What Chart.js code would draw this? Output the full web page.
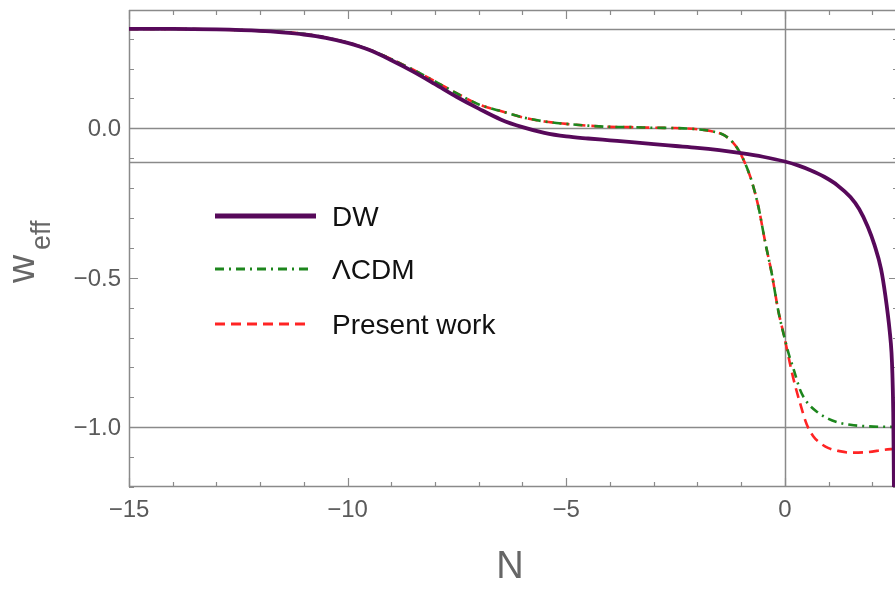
<!DOCTYPE html>
<html>
<head>
<meta charset="utf-8">
<script src="https://cdn.jsdelivr.net/npm/chart.js@4.4.1/dist/chart.umd.min.js"></script>
<style>
    html, body { margin: 0; padding: 0; background: #fff; }
    #wrap { width: 895px; height: 590px; }
</style>
</head>
<body>
<div id="wrap"><canvas id="chart" width="895" height="590"></canvas></div>
<script>
// values (N, w_eff)
const dwN = [-15, -14, -13, -12, -11.5, -11, -10.5, -10, -9.5, -9, -8.5, -8, -7.5, -7, -6.5, -6, -5.5, -5, -4.5, -4, -3.5, -3, -2.5, -2, -1.5, -1, -0.5, 0, 0.3, 0.6, 0.9, 1.2, 1.5, 1.7, 1.9, 2.05, 2.2, 2.3, 2.4, 2.44, 2.46, 2.48, 2.49, 2.5];
const dwW = [0.333, 0.333, 0.331, 0.326, 0.321, 0.314, 0.303, 0.286, 0.262, 0.228, 0.190, 0.148, 0.105, 0.066, 0.030, 0.004, -0.015, -0.027, -0.034, -0.040, -0.046, -0.053, -0.059, -0.065, -0.073, -0.083, -0.095, -0.111, -0.124, -0.141, -0.162, -0.190, -0.230, -0.270, -0.330, -0.390, -0.470, -0.560, -0.680, -0.750, -0.820, -0.950, -1.100, -1.300];

const lcdmN = [-15, -13, -12, -11, -10, -9.5, -9, -8.5, -8, -7.5, -7, -6.5, -6, -5.5, -5, -4.5, -4, -3.5, -3, -2.5, -2, -1.7, -1.4, -1.2, -1.05, -0.9, -0.75, -0.6, -0.45, -0.3, -0.15, 0, 0.1, 0.2, 0.35, 0.5, 0.75, 1.0, 1.25, 1.5, 1.9, 2.52];
const lcdmW = [0.333, 0.331, 0.326, 0.316, 0.287, 0.263, 0.232, 0.196, 0.157, 0.117, 0.080, 0.058, 0.037, 0.023, 0.015, 0.009, 0.005, 0.004, 0.002, 0.001, -0.003, -0.009, -0.022, -0.045, -0.075, -0.120, -0.180, -0.265, -0.380, -0.485, -0.610, -0.705, -0.760, -0.805, -0.875, -0.915, -0.950, -0.972, -0.985, -0.992, -0.997, -0.999];

const presentN = [-15, -13, -12, -11, -10, -9.5, -9, -8.5, -8, -7.5, -7, -6.5, -6, -5.5, -5, -4.5, -4, -3.5, -3, -2.5, -2, -1.7, -1.4, -1.2, -1.05, -0.9, -0.75, -0.6, -0.45, -0.3, -0.15, 0, 0.1, 0.2, 0.35, 0.5, 0.65, 0.8, 1.0, 1.25, 1.5, 1.9, 2.25, 2.52];
const presentW = [0.333, 0.331, 0.326, 0.316, 0.287, 0.263, 0.232, 0.196, 0.157, 0.117, 0.080, 0.058, 0.037, 0.023, 0.015, 0.009, 0.005, 0.004, 0.002, 0.001, -0.003, -0.009, -0.022, -0.045, -0.075, -0.120, -0.180, -0.265, -0.380, -0.485, -0.610, -0.705, -0.775, -0.840, -0.920, -0.990, -1.030, -1.052, -1.070, -1.080, -1.085, -1.083, -1.076, -1.072];

const seriesLabels = ["DW", "\u039BCDM", "Present work"];
const xTickLabels = [-15, -10, -5, 0];
const yTickLabels = [0, -0.5, -1.0];
const hLinesW = [0.333, 0, -0.111, -1];
const vLinesN = [0];

function toPoints(xs, ys) {
    return xs.map((x, i) => ({ x: x, y: ys[i] }));
}

function fmt(v, digits) {
    const s = Math.abs(v).toFixed(digits);
    return v < 0 ? "\u2212" + s : s;
}

const FONT = "'Liberation Sans', Arial, sans-serif";
const frameColor = "#8a8a8a";

const decorations = {
    id: "decorations",
    beforeDatasetsDraw(chart) {
        const { ctx, chartArea: a, scales: { x, y } } = chart;
        ctx.save();
        ctx.strokeStyle = frameColor;
        ctx.lineWidth = 1.5;
        // reference lines
        hLinesW.forEach(w => {
            const py = Math.round(y.getPixelForValue(w)) + 0.5;
            ctx.beginPath(); ctx.moveTo(a.left, py); ctx.lineTo(a.right, py); ctx.stroke();
        });
        vLinesN.forEach(n => {
            const px = Math.round(x.getPixelForValue(n)) + 0.5;
            ctx.beginPath(); ctx.moveTo(px, a.top); ctx.lineTo(px, a.bottom); ctx.stroke();
        });
        // frame (right side falls just outside the picture)
        ctx.beginPath();
        ctx.moveTo(a.left + 0.5, a.top); ctx.lineTo(a.left + 0.5, a.bottom);
        ctx.moveTo(a.left, a.top + 0.5); ctx.lineTo(a.right, a.top + 0.5);
        ctx.moveTo(a.left, a.bottom - 0.5); ctx.lineTo(a.right, a.bottom - 0.5);
        ctx.stroke();
        // inward ticks
        ctx.lineWidth = 1.2;
        for (let n = -15; n <= 2; n++) {
            const px = Math.round(x.getPixelForValue(n)) + 0.5;
            const len = n % 5 === 0 ? 9 : 5;
            ctx.beginPath();
            ctx.moveTo(px, a.bottom); ctx.lineTo(px, a.bottom - len);
            ctx.moveTo(px, a.top); ctx.lineTo(px, a.top + len);
            ctx.stroke();
        }
        for (let k = -12; k <= 3; k++) {
            const py = Math.round(y.getPixelForValue(k / 10)) + 0.5;
            const len = k % 5 === 0 ? 9 : 5;
            ctx.beginPath();
            ctx.moveTo(a.left, py); ctx.lineTo(a.left + len, py);
            ctx.moveTo(a.right + 3, py); ctx.lineTo(a.right + 3 - len, py);
            ctx.stroke();
        }
        ctx.restore();
    },
    afterDraw(chart) {
        const { ctx, chartArea: a, scales: { x, y } } = chart;
        ctx.save();
        // tick labels
        ctx.fillStyle = "#5a5a5a";
        ctx.font = "24px " + FONT;
        ctx.textAlign = "center";
        ctx.textBaseline = "alphabetic";
        xTickLabels.forEach(n => {
            ctx.fillText(fmt(n, 0), x.getPixelForValue(n), 517);
        });
        ctx.textAlign = "right";
        yTickLabels.forEach(w => {
            ctx.fillText(fmt(w, 1), 121, y.getPixelForValue(w) + 8);
        });
        // axis titles
        ctx.fillStyle = "#666";
        ctx.font = "38px " + FONT;
        ctx.textAlign = "center";
        ctx.fillText("N", (a.left + a.right) / 2 - 2, 578);
        ctx.translate(34, 0);
        ctx.rotate(-Math.PI / 2);
        ctx.textAlign = "left";
        ctx.font = "39px " + FONT;
        ctx.fillText("w", -283, 0);
        ctx.font = "27px " + FONT;
        ctx.fillText("eff", -250, 16);
        ctx.restore();

        // legend
        ctx.save();
        const rows = [216, 269, 324];
        const ends = [316, 308, 310];
        chart.data.datasets.forEach((ds, i) => {
            ctx.strokeStyle = ds.borderColor;
            ctx.lineWidth = i === 0 ? 5 : 2.8;
            ctx.setLineDash(ds.borderDash || []);
            ctx.beginPath();
            ctx.moveTo(215, rows[i]); ctx.lineTo(ends[i], rows[i]);
            ctx.stroke();
            ctx.setLineDash([]);
            ctx.fillStyle = "#111";
            ctx.font = "28px " + FONT;
            ctx.textAlign = "left";
            ctx.textBaseline = "alphabetic";
            ctx.fillText(ds.label, 332, rows[i] + 10);
        });
        ctx.restore();
    }
};

new Chart(document.getElementById("chart"), {
    type: "line",
    data: {
        datasets: [
            {
                label: seriesLabels[0],
                data: toPoints(dwN, dwW),
                borderColor: "#57095a",
                borderWidth: 3.8,
                cubicInterpolationMode: "monotone",
                pointRadius: 0
            },
            {
                label: seriesLabels[1],
                data: toPoints(lcdmN, lcdmW),
                borderColor: "#1d861d",
                borderWidth: 2.6,
                borderDash: [9, 5, 2, 5],
                cubicInterpolationMode: "monotone",
                pointRadius: 0
            },
            {
                label: seriesLabels[2],
                data: toPoints(presentN, presentW),
                borderColor: "#ff2424",
                borderWidth: 2.6,
                borderDash: [10, 6],
                cubicInterpolationMode: "monotone",
                pointRadius: 0
            }
        ]
    },
    options: {
        responsive: false,
        animation: false,
        devicePixelRatio: 1,
        layout: { padding: { top: 10, left: 0, right: 0, bottom: 0 } },
        scales: {
            x: {
                type: "linear",
                min: -15,
                max: 2.52,
                grid: { display: false },
                border: { display: false },
                ticks: { display: false },
                afterFit: s => { s.height = 103; }
            },
            y: {
                type: "linear",
                min: -1.2,
                max: 0.396,
                grid: { display: false },
                border: { display: false },
                ticks: { display: false },
                afterFit: s => { s.width = 129; }
            }
        },
        plugins: {
            legend: { display: false },
            tooltip: { enabled: false }
        }
    },
    plugins: [decorations]
});
</script>
</body>
</html>
